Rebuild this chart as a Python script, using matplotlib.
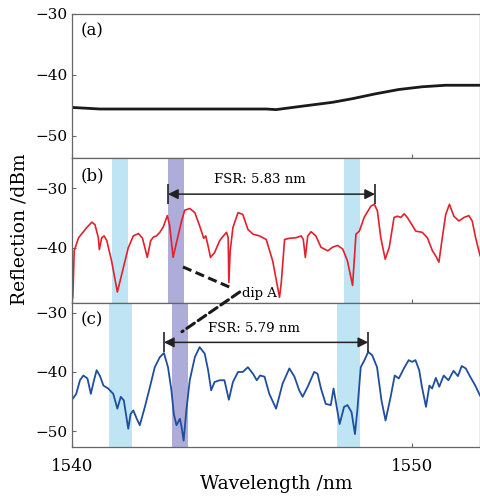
import numpy as np
import matplotlib.pyplot as plt
from matplotlib.patches import ConnectionPatch

plt.rcParams['font.family'] = ['DejaVu Serif']
plt.rcParams['mathtext.fontset'] = 'dejavuserif'

# (a) reference spectrum
wl_a = [1540.02, 1540.82, 1543.07, 1545.71, 1546.00, 1546.68, 1547.66, 1548.25,
        1548.93, 1549.61, 1550.30, 1550.99, 1552.00]
r_a = [-45.35, -45.6, -45.6, -45.6, -45.7, -45.2, -44.5, -43.9,
       -43.1, -42.4, -41.95, -41.7, -41.7]

# (b) red spectrum
wl_b = [1540.00, 1540.02, 1540.06, 1540.19, 1540.43, 1540.58, 1540.67, 1540.77, 1540.80,
        1540.87, 1540.94, 1541.02, 1541.16, 1541.33, 1541.46, 1541.65, 1541.80,
        1541.95, 1542.07, 1542.21, 1542.31, 1542.39, 1542.48, 1542.58, 1542.68,
        1542.80, 1542.87, 1542.97, 1543.07, 1543.22, 1543.31, 1543.46, 1543.61,
        1543.75, 1543.87, 1543.93, 1544.00, 1544.07, 1544.19, 1544.34, 1544.42,
        1544.54, 1544.59, 1544.61, 1544.65, 1544.73, 1544.88, 1545.02, 1545.17,
        1545.32, 1545.51, 1545.71, 1545.90, 1546.10, 1546.15, 1546.25, 1546.39,
        1546.59, 1546.74, 1546.80, 1546.86, 1546.93, 1547.03, 1547.17, 1547.32,
        1547.52, 1547.66, 1547.81, 1547.96, 1548.10, 1548.25, 1548.35, 1548.45,
        1548.59, 1548.79, 1548.89, 1548.98, 1549.08, 1549.21, 1549.33, 1549.47,
        1549.57, 1549.67, 1549.77, 1549.86, 1549.96, 1550.11, 1550.30, 1550.45,
        1550.60, 1550.69, 1550.79, 1550.89, 1550.99, 1551.10, 1551.23, 1551.38,
        1551.53, 1551.67, 1551.77, 1551.87, 1552.00]
r_b = [-48.8, -48.3, -40.5, -38.3, -36.6, -35.7, -36.1, -38.3, -40.3,
       -38.3, -38.0, -38.8, -42.2, -47.4, -44.4, -40.0, -38.0,
       -37.6, -38.4, -41.6, -38.8, -38.2, -38.0, -37.4, -36.5,
       -34.6, -36.3, -41.6, -39.1, -35.5, -33.7, -33.4, -34.1,
       -36.3, -38.4, -38.0, -39.7, -41.6, -40.8, -38.8, -38.2,
       -37.4, -38.3, -45.8, -40.5, -36.6, -34.1, -34.4, -36.9,
       -37.7, -38.0, -38.6, -42.2, -48.3, -46.0, -38.6, -38.4,
       -38.3, -38.0, -38.6, -41.6, -38.0, -37.3, -38.0, -39.9,
       -40.5, -39.9, -39.6, -40.2, -42.2, -46.3, -37.7, -37.2,
       -34.9, -33.0, -32.7, -33.8, -38.3, -41.9, -39.9, -34.9,
       -34.7, -34.9, -34.3, -34.9, -35.8, -37.2, -37.4, -38.3,
       -40.5, -41.3, -42.4, -38.3, -34.4, -32.7, -34.7, -35.5,
       -34.9, -34.6, -35.5, -38.3, -41.3]

# (c) blue spectrum
wl_c = [1540.02, 1540.12, 1540.23, 1540.33, 1540.45, 1540.55, 1540.63, 1540.72, 1540.82,
        1540.92, 1541.06, 1541.21, 1541.33, 1541.43, 1541.52, 1541.65, 1541.72,
        1541.80, 1541.90, 1541.99, 1542.14, 1542.29, 1542.43, 1542.58, 1542.70,
        1542.82, 1542.92, 1542.99, 1543.07, 1543.17, 1543.22, 1543.28, 1543.36,
        1543.46, 1543.61, 1543.75, 1543.90, 1544.00, 1544.09, 1544.19, 1544.34,
        1544.48, 1544.61, 1544.73, 1544.88, 1545.02, 1545.17, 1545.32, 1545.43,
        1545.53, 1545.66, 1545.80, 1546.00, 1546.19, 1546.39, 1546.54, 1546.68,
        1546.78, 1546.93, 1547.12, 1547.22, 1547.32, 1547.46, 1547.61, 1547.69,
        1547.75, 1547.87, 1548.00, 1548.10, 1548.22, 1548.32, 1548.39, 1548.49,
        1548.60, 1548.71, 1548.83, 1548.97, 1549.10, 1549.22, 1549.37, 1549.49,
        1549.61, 1549.76, 1549.90, 1550.00, 1550.10, 1550.21, 1550.29, 1550.41,
        1550.51, 1550.59, 1550.70, 1550.80, 1550.93, 1551.07, 1551.22, 1551.35,
        1551.46, 1551.58, 1551.71, 1551.86, 1552.00]
r_c = [-44.5, -43.7, -41.4, -40.6, -41.1, -43.7, -41.7, -39.7, -40.7,
       -42.3, -42.8, -43.7, -46.2, -44.2, -44.8, -49.6, -47.1,
       -46.5, -47.9, -49.0, -45.9, -42.5, -39.2, -37.5, -36.8,
       -39.2, -43.1, -47.1, -49.0, -47.9, -49.3, -51.6, -46.5,
       -41.4, -37.5, -35.8, -36.9, -39.7, -43.1, -41.7, -41.4,
       -41.4, -44.7, -41.7, -40.0, -40.0, -39.2, -40.3, -41.4,
       -40.6, -40.8, -43.7, -46.2, -42.0, -39.4, -40.8, -43.1,
       -44.2, -42.5, -40.0, -40.3, -42.8, -45.4, -45.6, -42.8,
       -44.8, -48.8, -45.9, -45.6, -46.8, -50.5, -46.5, -39.2,
       -38.0, -36.6, -37.2, -39.2, -44.8, -48.2, -44.2, -40.6,
       -41.1, -39.4, -38.0, -38.3, -38.0, -39.7, -42.5, -45.9,
       -42.3, -42.8, -41.0, -42.5, -40.6, -41.4, -39.8, -40.7,
       -39.0, -39.4, -40.8, -42.3, -44.0]

# highlighted bands (nm)
bands_b = [(1541.17, 1541.64), (1548.00, 1548.47)]
dip_b = (1542.82, 1543.28)
bands_c = [(1541.09, 1541.76), (1547.80, 1548.47)]
dip_c = (1542.93, 1543.40)

fsr_b = (1542.82, 1548.91, -31.0)
fsr_c = (1542.70, 1548.71, -35.0)

light_blue = '#bfe4f4'
purple = '#aeacd8'
frame = '#666666'

fig = plt.figure(figsize=(4.81, 4.99), dpi=100)
axes = fig.subplots(3, 1, sharex=True)
fig.subplots_adjust(left=0.150, right=0.998, top=0.972, bottom=0.104, hspace=0)
ax_a, ax_b, ax_c = axes

ax_a.plot(wl_a, r_a, color='#1a1a1a', lw=2.0)
ax_b.plot(wl_b, r_b, color='#e3202b', lw=1.2)
ax_c.plot(wl_c, r_c, color='#1f4e9e', lw=1.3)

for lo, hi in bands_b:
    ax_b.axvspan(lo, hi, color=light_blue, lw=0, zorder=0)
ax_b.axvspan(*dip_b, color=purple, lw=0, zorder=0)
for lo, hi in bands_c:
    ax_c.axvspan(lo, hi, color=light_blue, lw=0, zorder=0)
ax_c.axvspan(*dip_c, color=purple, lw=0, zorder=0)

ax_a.set_ylim(-53.7, -30)
ax_b.set_ylim(-49.2, -25)
ax_c.set_ylim(-52.7, -28.3)
ax_a.set_yticks([-30, -40, -50])
ax_b.set_yticks([-30, -40])
ax_c.set_yticks([-30, -40, -50])
ax_c.set_xlim(1540, 1552)
ax_c.set_xticks([1540, 1550])

for ax, lab in zip(axes, ['(a)', '(b)', '(c)']):
    ax.tick_params(direction='in', length=3, width=0.8, color=frame, labelsize=11, pad=3)
    for s in ax.spines.values():
        s.set_color(frame)
        s.set_linewidth(0.9)
    ax.text(0.02, 0.88, lab, transform=ax.transAxes, fontsize=12, va='center', ha='left')
ax_c.tick_params(axis='x', labelsize=12, pad=8)

# FSR arrows
for ax, (x0, x1, y), txt in [(ax_b, fsr_b, 'FSR: 5.83 nm'), (ax_c, fsr_c, 'FSR: 5.79 nm')]:
    ax.annotate('', xy=(x0, y), xytext=(x1, y),
                arrowprops=dict(arrowstyle='<|-|>', color='#222222', lw=1.1,
                                mutation_scale=15, shrinkA=0, shrinkB=0))
    ax.vlines([x0, x1], y - 1.7, y + 1.7, color='#222222', lw=1.2)
    ax.text((x0 + x1) / 2 - 0.35, y + 1.3, txt, fontsize=9.5, ha='center', va='bottom')

# dip A pointer
ax_b.plot([1543.26, 1544.72], [-43.2, -46.8], color='#1a1a1a', lw=2.2,
          ls=(0, (3, 1.5)), clip_on=False)
ax_b.text(1545.0, -47.7, 'dip A', fontsize=9.5, ha='left', va='center')
con = ConnectionPatch(xyA=(1544.93, -47.4), coordsA=ax_b.transData,
                      xyB=(1543.23, -33.2), coordsB=ax_c.transData,
                      color='#1a1a1a', lw=2.2, ls=(0, (3, 1.5)))
fig.add_artist(con)

fig.text(0.04, 0.54, 'Reflection /dBm', rotation=90, fontsize=13.5, ha='center', va='center')
ax_c.set_xlabel('Wavelength /nm', fontsize=13.5, labelpad=0)

fig.savefig('out.png', dpi=100)
